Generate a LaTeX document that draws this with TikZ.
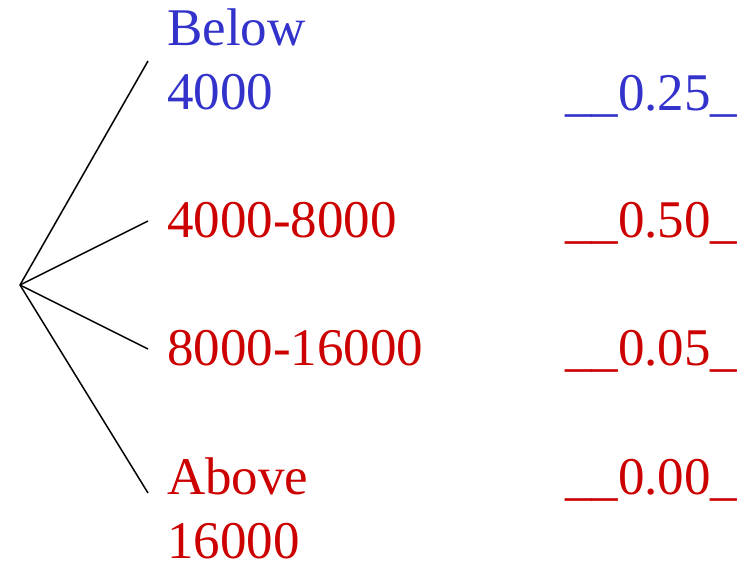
\documentclass[tikz,border=0pt]{standalone}
\usepackage{fontspec}
\setmainfont{Liberation Serif}
\definecolor{lowblue}{RGB}{51,51,204}
\definecolor{bandred}{RGB}{204,0,0}
\tikzset{
    band/.style={anchor=base west, inner sep=0pt, align=left,
        font=\fontsize{53}{64}\selectfont},
    branch/.style={line width=1.5pt},
}
\begin{document}
\begin{tikzpicture}[x=1pt,y=-1pt]
    \useasboundingbox (0,0) rectangle (747,561);
    \coordinate (root) at (20,285);

    % last baseline of each label
    \node[band, text=lowblue] (b1) at (167,110) {Below\\4000};
    \node[band, text=bandred] (b2) at (167,238) {4000-8000};
    \node[band, text=bandred] (b3) at (167,366) {8000-16000};
    \node[band, text=bandred] (b4) at (167,558) {Above\\16000};

    \foreach \i/\y in {1/61,2/221,3/349,4/493}
        {\coordinate (e\i) at (148,\y);
         \draw[branch] (root) -- (e\i);}

    \foreach \i/\y/\v/\c in {1/111/0.25/lowblue,2/238/0.50/bandred,3/366/0.05/bandred,4/494/0.00/bandred}
        {\node[band, text=\c] (p\i) at (565,\y) {\_\_\v\_};}
\end{tikzpicture}
\end{document}
